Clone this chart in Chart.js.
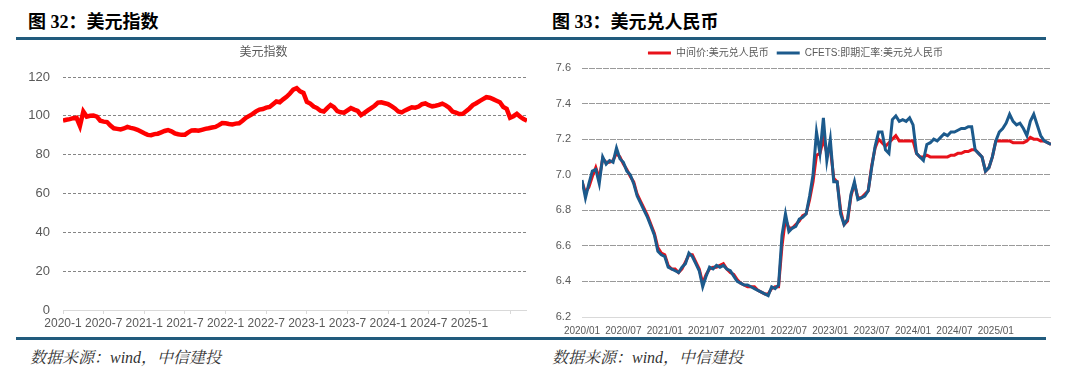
<!DOCTYPE html>
<html><head><meta charset="utf-8">
<script src="https://cdn.jsdelivr.net/npm/chart.js@4/dist/chart.umd.min.js"></script>
<style>
body{margin:0;width:1080px;height:378px;background:#fff;position:relative;overflow:hidden;font-family:"Liberation Sans",Arial,"Noto Sans CJK SC",sans-serif;}
.t{position:absolute;top:11px;font-family:"Liberation Serif","Noto Sans CJK SC",serif;font-weight:bold;font-size:18px;color:#000;line-height:22px;white-space:nowrap;}
.rule{position:absolute;height:3px;background:#215b7d;}
.src{position:absolute;top:347px;font-family:"Liberation Serif","Noto Serif CJK SC","Noto Sans CJK SC",serif;font-style:italic;font-size:16px;color:#333;line-height:22px;white-space:nowrap;}
.box{position:absolute;top:40px;width:540px;height:295px;}
</style></head>
<body>
<div class="t" style="left:28px">图 32：美元指数</div>
<div class="t" style="left:552px">图 33：美元兑人民币</div>
<div class="rule" style="left:16px;top:37px;width:524px"></div>
<div class="rule" style="left:540px;top:37px;width:506px"></div>
<div class="rule" style="left:16px;top:337px;width:524px"></div>
<div class="rule" style="left:540px;top:337px;width:506px"></div>
<div class="src" style="left:30px">数据来源：wind，中信建投</div>
<div class="src" style="left:552px">数据来源：wind，中信建投</div>
<div class="box" style="left:0"><canvas id="c1"></canvas></div>
<div class="box" style="left:540px"><canvas id="c2"></canvas></div>
<script>
// half-month steps from 2020-01
const STEP = 0.5;
const TICK_MONTHS = 6;
const LEFT_TICKS = ["2020-1","2020-7","2021-1","2021-7","2022-1","2022-7","2023-1","2023-7","2024-1","2024-7","2025-1",""];
const RIGHT_TICKS = ["2020/01","2020/07","2021/01","2021/07","2022/01","2022/07","2023/01","2023/07","2024/01","2024/07","2025/01",""];
const DXY = [
97.6,98.0,98.3,98.8,99.0,94.8,102.2,99.6,100.0,100.2,99.6,97.5,
97.0,96.8,95.0,93.6,93.3,93.0,93.5,94.3,93.8,93.4,92.8,91.9,
91.0,90.2,90.0,90.6,90.8,91.5,92.2,92.7,92.0,91.0,90.5,90.2,
90.3,91.5,92.5,92.6,92.3,92.8,93.3,93.6,94.0,94.3,95.2,96.3,
96.2,95.8,95.6,96.0,96.2,97.5,99.0,100.0,101.0,102.3,103.2,103.5,
104.2,104.6,106.0,107.4,107.0,108.5,109.8,111.5,113.5,114.3,112.6,111.8,
107.2,106.3,104.8,104.0,102.6,102.2,104.0,105.6,104.5,102.4,101.8,101.6,
102.8,104.0,103.2,102.5,100.4,101.5,102.8,104.0,105.2,106.8,107.0,106.5,
106.0,105.0,103.8,102.2,101.8,102.8,103.6,104.4,104.2,104.8,106.0,106.4,
105.5,104.9,105.2,105.6,106.3,105.4,104.2,102.2,101.6,100.9,101.0,102.4,
103.8,105.5,106.5,107.6,108.6,109.6,109.3,108.6,107.8,107.0,104.5,103.6,
99.0,99.8,101.0,99.5,98.3,97.5];
const CNY_MID = [
6.96,6.90,6.93,6.99,7.04,6.98,7.09,7.07,7.07,7.08,7.12,7.10,
7.06,7.03,6.99,6.96,6.89,6.85,6.81,6.77,6.72,6.67,6.59,6.56,
6.55,6.49,6.47,6.47,6.45,6.47,6.51,6.55,6.55,6.51,6.47,6.39,
6.44,6.47,6.48,6.48,6.49,6.50,6.47,6.45,6.44,6.41,6.39,6.38,
6.37,6.37,6.37,6.35,6.34,6.33,6.33,6.36,6.37,6.37,6.60,6.75,
6.70,6.70,6.72,6.74,6.77,6.78,6.86,6.96,7.11,7.12,7.20,7.12,
7.15,6.98,6.96,6.80,6.72,6.74,6.88,6.95,6.87,6.87,6.89,6.91,
7.05,7.15,7.20,7.18,7.16,7.18,7.20,7.22,7.19,7.19,7.19,7.19,
7.19,7.12,7.10,7.10,7.11,7.10,7.10,7.10,7.10,7.10,7.10,7.11,
7.11,7.12,7.12,7.13,7.13,7.14,7.14,7.12,7.10,7.02,7.04,7.10,
7.19,7.19,7.19,7.19,7.19,7.18,7.18,7.18,7.18,7.19,7.21,7.20,
7.20,7.19,7.19,7.18,7.17];
const CNY_SPOT = [
6.97,6.87,6.95,7.02,7.03,6.95,7.10,7.06,7.08,7.07,7.15,7.09,
7.07,7.02,7.00,6.95,6.88,6.84,6.80,6.76,6.71,6.66,6.57,6.55,
6.54,6.48,6.47,6.46,6.45,6.48,6.50,6.56,6.54,6.50,6.46,6.37,
6.43,6.48,6.47,6.49,6.48,6.49,6.47,6.46,6.43,6.40,6.39,6.38,
6.38,6.37,6.36,6.35,6.34,6.33,6.32,6.37,6.36,6.38,6.66,6.78,
6.68,6.70,6.71,6.75,6.76,6.78,6.88,7.00,7.24,7.12,7.32,7.08,
7.20,6.96,6.96,6.78,6.72,6.75,6.89,6.96,6.86,6.87,6.88,6.91,
7.04,7.16,7.24,7.24,7.14,7.12,7.31,7.33,7.30,7.31,7.30,7.32,
7.28,7.12,7.10,7.08,7.17,7.18,7.20,7.19,7.21,7.23,7.22,7.24,
7.24,7.25,7.26,7.26,7.27,7.27,7.14,7.12,7.10,7.02,7.04,7.10,
7.19,7.24,7.26,7.29,7.34,7.30,7.28,7.29,7.26,7.22,7.30,7.34,
7.28,7.22,7.19,7.18,7.17];
const SERIES_NAMES = ["中间价:美元兑人民币","CFETS:即期汇率:美元兑人民币"];
const RED = "#e8121a", BLUE = "#1c5a8c";

const toXY = arr => arr.map((v,i)=>({x:i*STEP,y:v}));
const FONT = '"Liberation Sans", Arial, "Noto Sans CJK SC", sans-serif';
Chart.defaults.font.family = FONT;
Chart.defaults.color = "#595959";
Chart.defaults.animation = false;

const setTicks = labels => s => { s.ticks = labels.map((_, i) => ({ value: i * TICK_MONTHS })); };
const tickLabel = labels => (v, i) => labels[i] !== undefined ? labels[i] : "";

new Chart(document.getElementById("c1"), {
  type: "line",
  data: { datasets: [{ data: toXY(DXY), borderColor: "#ff0000", borderWidth: 4.5, pointRadius: 0, tension: 0 }] },
  options: {
    responsive: true, maintainAspectRatio: false,
    layout: { padding: { left: 0, right: 13, top: 0, bottom: 0 } },
    plugins: {
      legend: { display: false }, tooltip: { enabled: false },
      title: { display: true, text: "美元指数", color: "#595959", font: { size: 12, weight: "normal", family: FONT }, padding: { top: 5, bottom: 17.6 } }
    },
    scales: {
      x: {
        type: "linear", min: 0, max: 68.5,
        afterBuildTicks: setTicks(LEFT_TICKS),
        afterFit: s => { s.height = 25; },
        grid: { drawOnChartArea: false, drawTicks: true, tickLength: 4, tickColor: "#d9d9d9" },
        border: { display: false },
        ticks: { autoSkip: false, maxRotation: 0, minRotation: 0, padding: 2, color: "#595959", font: { size: 12 },
          callback: tickLabel(LEFT_TICKS) }
      },
      y: {
        min: 0, max: 120,
        afterFit: s => { s.width = 63; },
        grid: { drawTicks: false, color: c => c.tick && c.tick.value === 0 ? "#d9d9d9" : "#858585" },
        border: { display: false, dash: c => c.tick && c.tick.value === 0 ? [] : [3, 2] },
        ticks: { stepSize: 20, padding: 13, color: "#595959", font: { size: 13 } }
      }
    }
  }
});

new Chart(document.getElementById("c2"), {
  type: "line",
  data: { datasets: [
    { label: SERIES_NAMES[1], data: toXY(CNY_SPOT), borderColor: BLUE, borderWidth: 3, pointRadius: 0, tension: 0 },
    { label: SERIES_NAMES[0], data: toXY(CNY_MID), borderColor: RED, borderWidth: 3, pointRadius: 0, tension: 0 }
  ] },
  options: {
    responsive: true, maintainAspectRatio: false,
    layout: { padding: { left: 0, right: 29, top: 0, bottom: 0 } },
    plugins: {
      tooltip: { enabled: false },
      legend: { display: true, position: "top",
        labels: { boxWidth: 23, boxHeight: 3, padding: 8, color: "#595959", font: { size: 10 },
          generateLabels: () => [
            { text: SERIES_NAMES[0], fillStyle: RED, strokeStyle: RED, lineWidth: 0, hidden: false, fontColor: "#595959" },
            { text: SERIES_NAMES[1], fillStyle: BLUE, strokeStyle: BLUE, lineWidth: 0, hidden: false, fontColor: "#595959" }
          ] } }
    },
    scales: {
      x: {
        type: "linear", min: 0, max: 68,
        afterBuildTicks: setTicks(RIGHT_TICKS),
        afterFit: s => { s.height = 18; },
        grid: { drawOnChartArea: false, drawTicks: false },
        border: { display: false },
        ticks: { autoSkip: false, maxRotation: 0, minRotation: 0, padding: 8, color: "#595959", font: { size: 10 },
          callback: tickLabel(RIGHT_TICKS) }
      },
      y: {
        min: 6.2, max: 7.6,
        afterFit: s => { s.width = 42; },
        grid: { drawTicks: false, color: c => c.tick && Math.abs(c.tick.value - 6.2) < 1e-6 ? "#d9d9d9" : "#9a9a9a" },
        border: { display: false, dash: c => c.tick && Math.abs(c.tick.value - 6.2) < 1e-6 ? [] : [6, 1] },
        ticks: { stepSize: 0.2, padding: 11, color: "#595959", font: { size: 11 }, callback: v => Number(v).toFixed(1) }
      }
    }
  }
});
</script>
</body></html>
